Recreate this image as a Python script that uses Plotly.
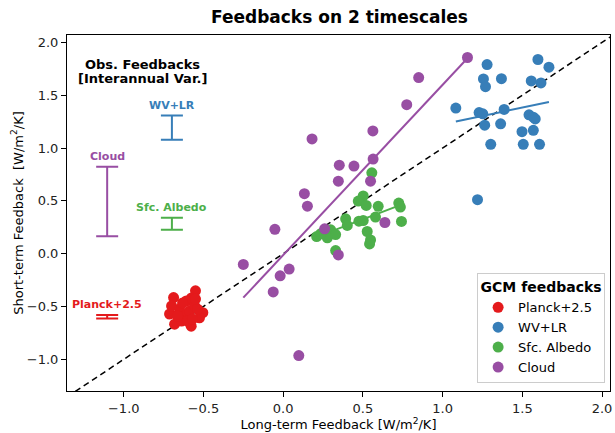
import numpy as np
import plotly.graph_objects as go

# ---------------- data ----------------
planck_x = [-0.6875, -0.55, -0.575, -0.608, -0.504, -0.7125, -0.681, -0.577, -0.525,
            -0.65, -0.619, -0.5875, -0.556, -0.6375, -0.60, -0.6625, -0.569, -0.5375,
            -0.70, -0.631, -0.55]
planck_y = [-0.416, -0.352, -0.419, -0.448, -0.559, -0.571, -0.667, -0.686, -0.607,
            -0.524, -0.59, -0.543, -0.495, -0.638, -0.638, -0.59, -0.619, -0.524,
            -0.495, -0.467, -0.43]

wvlr_x = [1.279, 1.598, 1.667, 1.256, 1.369, 1.269, 1.556, 1.617, 1.083, 1.229, 1.252,
          1.386, 1.264, 1.364, 1.542, 1.569, 1.581, 1.498, 1.569, 1.302, 1.506, 1.608, 1.219]
wvlr_y = [1.790, 1.838, 1.765, 1.654, 1.657, 1.581, 1.635, 1.616, 1.378, 1.336, 1.324,
          1.365, 1.216, 1.229, 1.314, 1.292, 1.276, 1.155, 1.168, 1.035, 1.035, 1.035, 0.511]

albedo_x = [0.556, 0.502, 0.471, 0.521, 0.596, 0.725, 0.735, 0.742, 0.579, 0.392, 0.402,
            0.475, 0.502, 0.527, 0.548, 0.542, 0.298, 0.329, 0.277, 0.210, 0.235, 0.329]
albedo_y = [0.765, 0.546, 0.498, 0.457, 0.448, 0.479, 0.441, 0.305, 0.346, 0.330, 0.267,
            0.308, 0.314, 0.210, 0.130, 0.092, 0.226, 0.181, 0.150, 0.162, 0.188, 0.029]

cloud_x = [0.564, 0.352, 0.444, 0.346, 0.548, 0.133, 0.152, -0.052, 0.260, 0.638, 0.346,
           -0.250, 0.0375, -0.019, -0.0625, 0.098, 1.156, 0.850, 0.775, 0.181, 0.5625]
cloud_y = [0.895, 0.838, 0.829, 0.686, 0.686, 0.568, 0.450, 0.231, 0.235, 0.295, -0.012,
           -0.102, -0.146, -0.210, -0.362, -0.965, 1.857, 1.667, 1.410, 1.086, 1.162]

# observed interannual feedbacks (center, half-range)
obs_names = ["Planck+2.5", "WV+LR", "Sfc. Albedo", "Cloud"]
obs_center = [-0.597, 1.193, 0.283, 0.494]
obs_err = [0.016, 0.114, 0.057, 0.329]

colors = ["#e41a1c", "#377eb8", "#4daf4a", "#984ea3"]
names = ["Planck+2.5", "WV+LR", "Sfc. Albedo", "Cloud"]
xs = [planck_x, wvlr_x, albedo_x, cloud_x]
ys = [planck_y, wvlr_y, albedo_y, cloud_y]

# layout positions of observed error bars (x in data units)
obs_xpos = [-1.104, -0.698, -0.698, -1.104]

fig = go.Figure()

xlim = [-1.356, 2.05]
ylim = [-1.30, 2.07]

# 1:1 line
lo = min(xlim[0], ylim[0]); hi = max(xlim[1], ylim[1])
fig.add_trace(go.Scatter(x=[lo, hi], y=[lo, hi], mode="lines",
                         line=dict(color="black", width=1.5, dash="6px,4px"),
                         showlegend=False, hoverinfo="skip"))

# regression lines
for x, y, c in zip(xs, ys, colors):
    xa = np.array(x); ya = np.array(y)
    p = np.polyfit(xa, ya, 1)
    xx = np.array([xa.min(), xa.max()])
    fig.add_trace(go.Scatter(x=xx, y=np.polyval(p, xx), mode="lines",
                             line=dict(color=c, width=2), showlegend=False,
                             hoverinfo="skip"))

# GCM points
for x, y, c, n in zip(xs, ys, colors, names):
    fig.add_trace(go.Scatter(x=x, y=y, mode="markers", name=n,
                             marker=dict(color=c, size=11, line=dict(width=0))))

# observed error bars
for xp, cen, er, c, n in zip(obs_xpos, obs_center, obs_err, colors, obs_names):
    fig.add_trace(go.Scatter(x=[xp], y=[cen], mode="markers",
                             marker=dict(color=c, size=0, opacity=0),
                             error_y=dict(type="data", array=[er], color=c,
                                          thickness=2, width=11),
                             showlegend=False, hoverinfo="skip"))
    fig.add_annotation(x=xp, y=cen + er, xref="x", yref="y", text="<b>%s</b>" % n,
                       showarrow=False, yanchor="bottom", yshift=2,
                       font=dict(color=c, size=11, family="DejaVu Sans"))

for txt, yy in [("Obs. Feedbacks", 1.79), ("[Interannual Var.]", 1.655)]:
    fig.add_annotation(x=-0.881, y=yy, xref="x", yref="y", text="<b>%s</b>" % txt,
                       showarrow=False,
                       font=dict(color="black", size=13, family="DejaVu Sans"))

axis_common = dict(showline=True, linecolor="black", linewidth=1, mirror=True,
                   ticks="outside", ticklen=5, tickcolor="black", showgrid=False,
                   zeroline=False, tickfont=dict(size=13, color="#222"))

fig.update_layout(
    width=615, height=433,
    margin=dict(l=67, r=3, t=35, b=42),
    paper_bgcolor="white", plot_bgcolor="white",
    font=dict(family="DejaVu Sans", color="black"),
    title=dict(text="<b>Feedbacks on 2 timescales</b>", x=(67 + 612) / 2 / 615,
               xanchor="center", y=1 - 17 / 433, yanchor="middle",
               font=dict(size=17, color="black")),
    xaxis=dict(range=xlim, dtick=0.5, tickformat=".1f",
               title=dict(text="Long-term Feedback [W/m<sup>2</sup>/K]",
                          font=dict(size=13), standoff=4), **axis_common),
    yaxis=dict(range=ylim, dtick=0.5, tickformat=".1f",
               title=dict(text="Short-term Feedback  [W/m<sup>2</sup>/K]",
                          font=dict(size=13), standoff=0), **axis_common),
    legend=dict(x=0.991, y=0.022, xanchor="right", yanchor="bottom",
                bgcolor="white", bordercolor="#cccccc", borderwidth=1,
                title=dict(text="<b>GCM feedbacks</b>", font=dict(size=14),
                           side="top center"),
                font=dict(size=13), itemsizing="trace", tracegroupgap=0),
)

fig.write_html("out.html", config={"displayModeBar": False},
               post_script="document.body.style.margin='0';document.body.style.padding='0';")
